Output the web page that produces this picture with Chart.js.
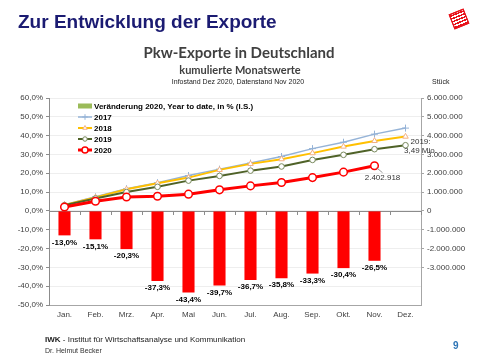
<!DOCTYPE html>
<html>
<head>
<meta charset="utf-8">
<script src="https://cdn.jsdelivr.net/npm/chart.js@4/dist/chart.umd.min.js"></script>
<style>
  body { margin: 0; background: #fff; }
  #wrap { position: relative; width: 480px; height: 360px; overflow: hidden; font-family: "Liberation Sans", Arial, sans-serif; }
  #wrap canvas { position: absolute; left: 0; top: 0; }
  .t { position: absolute; white-space: nowrap; }
  #logo { position: absolute; left: 451px; top: 11px; width: 14px; height: 14px; transform: rotate(-22deg);
    background: repeating-linear-gradient(0deg, #e8141c 0 1.5px, #fff 1.5px 3px), #e8141c;
    border: 1.5px solid #e8141c; }
</style>
</head>
<body>
<div id="wrap">
  <canvas id="chart" width="480" height="360"></canvas>
  <div class="t" style="left:18px;top:12px;font:bold 19px 'Liberation Sans',Arial;color:#1b1b72;line-height:20px;">Zur Entwicklung der Exporte</div>
  <div id="logo"></div>
  <div class="t" style="left:0;width:480px;text-align:center;top:44px;font:bold 15px Lato,sans-serif;color:#404040;line-height:16px;left:-1px;">Pkw-Exporte in Deutschland</div>
  <div class="t" style="left:0;width:480px;text-align:center;top:64px;font:bold 11px Lato,sans-serif;color:#404040;line-height:12px;">kumulierte Monatswerte</div>
  <div class="t" style="left:0;width:476px;text-align:center;top:77px;font:7px 'Liberation Sans',Arial;color:#222;line-height:9px;">Infostand Dez 2020, Datenstand Nov 2020</div>
  <div class="t" style="left:432px;top:77px;font:7px 'Liberation Sans',Arial;color:#222;line-height:9px;">Stück</div>
  <div class="t" style="left:45px;top:335px;font:8px 'Liberation Sans',Arial;color:#222;line-height:10px;"><b>IWK</b> - Institut für Wirtschaftsanalyse und Kommunikation</div>
  <div class="t" style="left:45px;top:346px;font:7px 'Liberation Sans',Arial;color:#333;line-height:9px;">Dr. Helmut Becker</div>
  <div class="t" style="left:453px;top:340px;font:bold 10px 'Liberation Sans',Arial;color:#2e75b6;line-height:11px;">9</div>
</div>
<script>
// Monate
const months = ['Jan.', 'Feb.', 'Mrz.', 'Apr.', 'Mai', 'Jun.', 'Jul.', 'Aug.', 'Sep.', 'Okt.', 'Nov.', 'Dez.'];

// Veränderung 2020 ggü. Vorjahr, kumuliert, in %
const change2020 = [-13.0, -15.1, -20.3, -37.3, -43.4, -39.7, -36.7, -35.8, -33.3, -30.4, -26.5, null];

// kumulierte Pkw-Exporte, Stück
const exports2017 = [330000, 750000, 1180000, 1500000, 1880000, 2220000, 2540000, 2890000, 3310000, 3650000, 4080000, 4400000];
const exports2018 = [320000, 720000, 1150000, 1470000, 1770000, 2180000, 2500000, 2750000, 3070000, 3420000, 3720000, 3950000];
const exports2019 = [300000, 660000, 1000000, 1280000, 1610000, 1860000, 2140000, 2360000, 2710000, 2980000, 3280000, 3490000];
const exports2020 = [210000, 510000, 740000, 780000, 890000, 1120000, 1330000, 1510000, 1770000, 2060000, 2402918, null];

const leftTicks = [-50, -40, -30, -20, -10, 0, 10, 20, 30, 40, 50, 60];
const rightTicks = [-3000000, -2000000, -1000000, 0, 1000000, 2000000, 3000000, 4000000, 5000000, 6000000];

const FONT = "'Liberation Sans', Arial, sans-serif";

function dots(v) {
    const s = String(Math.abs(Math.round(v))).replace(/\B(?=(\d{3})+(?!\d))/g, '.');
    return (v < 0 ? '-' : '') + s;
}
function pct(v) {
    return v.toFixed(1).replace('.', ',') + '%';
}

const extras = {
    id: 'extras',
    beforeDatasetsDraw(chart) {
        const ctx = chart.ctx;
        const x = chart.scales.x;
        const y = chart.scales.y;
        const area = chart.chartArea;
        const y0 = y.getPixelForValue(0);
        ctx.save();
        ctx.strokeStyle = '#8c8c8c';
        ctx.lineWidth = 1;
        ctx.beginPath();
        ctx.moveTo(area.left, Math.round(y0) + 0.5);
        ctx.lineTo(area.right, Math.round(y0) + 0.5);
        const w = (area.right - area.left) / months.length;
        for (let i = 0; i <= months.length; i++) {
            const px = Math.round(x.getPixelForTick(0) - w / 2 + i * w) + 0.5;
            ctx.moveTo(px, Math.round(y0));
            ctx.lineTo(px, Math.round(y0) + 4);
        }
        ctx.stroke();
        ctx.restore();
    },
    afterDatasetsDraw(chart) {
        const ctx = chart.ctx;
        const area = chart.chartArea;
        ctx.save();

        // Balkenbeschriftung
        const barMeta = chart.getDatasetMeta(0);
        ctx.font = 'bold 8px ' + FONT;
        ctx.fillStyle = '#000';
        ctx.textAlign = 'center';
        ctx.textBaseline = 'middle';
        barMeta.data.forEach((el, i) => {
            if (change2020[i] == null) return;
            ctx.fillText(pct(change2020[i]), el.x, el.y + 7);
        });

        // Hinweise an den Linien
        ctx.font = '8px ' + FONT;
        ctx.fillStyle = '#333';
        const p19 = chart.getDatasetMeta(3).data[11];
        ctx.fillText('2019:', p19.x + 15, p19.y - 3);
        ctx.fillText('3,49 Mio.', p19.x + 15, p19.y + 6);
        const p20 = chart.getDatasetMeta(4).data[10];
        ctx.strokeStyle = '#7f7f7f';
        ctx.lineWidth = 0.8;
        ctx.beginPath();
        ctx.moveTo(p20.x + 2, p20.y + 2);
        ctx.lineTo(p20.x + 8, p20.y + 7);
        ctx.stroke();
        ctx.fillText(dots(2402918), p20.x + 8, p20.y + 12);

        // Legende
        const lx = area.left + 29;
        let ly = area.top + 8;
        ctx.textAlign = 'left';
        ctx.font = 'bold 8px ' + FONT;
        chart.data.datasets.forEach((ds) => {
            if (ds.type === 'bar') {
                ctx.fillStyle = ds.legendColor;
                ctx.fillRect(lx, ly - 2.5, 14, 5);
            } else {
                ctx.strokeStyle = ds.borderColor;
                ctx.lineWidth = ds.borderWidth;
                ctx.beginPath();
                ctx.moveTo(lx, ly);
                ctx.lineTo(lx + 14, ly);
                ctx.stroke();
                ctx.fillStyle = ds.pointBackgroundColor;
                ctx.strokeStyle = ds.pointBorderColor;
                ctx.lineWidth = ds.pointBorderWidth;
                Chart.helpers.drawPoint(ctx, {
                    pointStyle: ds.pointStyle, rotation: 0,
                    radius: ds.pointRadius * 0.8, borderWidth: ds.pointBorderWidth
                }, lx + 7, ly);
            }
            ctx.fillStyle = '#000';
            ctx.fillText(ds.label, lx + 16, ly + 0.5);
            ly += 11;
        });
        ctx.restore();
    }
};

new Chart(document.getElementById('chart').getContext('2d'), {
    type: 'bar',
    data: {
        labels: months,
        datasets: [
            {
                type: 'bar',
                label: 'Veränderung 2020, Year to date, in % (l.S.)',
                data: change2020,
                yAxisID: 'y',
                backgroundColor: '#ff0000',
                legendColor: '#9bbb59',
                barPercentage: 0.39,
                categoryPercentage: 1,
                order: 10
            },
            {
                type: 'line', label: '2017', data: exports2017, yAxisID: 'y1',
                borderColor: '#95b3d7', borderWidth: 1.5,
                pointStyle: 'cross', pointRadius: 3.5, pointBorderWidth: 1,
                pointBorderColor: '#95b3d7', pointBackgroundColor: '#95b3d7', order: 4
            },
            {
                type: 'line', label: '2018', data: exports2018, yAxisID: 'y1',
                borderColor: '#ffc000', borderWidth: 2,
                pointStyle: 'triangle', pointRadius: 3.2, pointBorderWidth: 1,
                pointBorderColor: '#f4b183', pointBackgroundColor: '#fff', order: 3
            },
            {
                type: 'line', label: '2019', data: exports2019, yAxisID: 'y1',
                borderColor: '#4f6228', borderWidth: 2,
                pointStyle: 'circle', pointRadius: 2.8, pointBorderWidth: 1,
                pointBorderColor: '#76875a', pointBackgroundColor: '#fff', order: 2
            },
            {
                type: 'line', label: '2020', data: exports2020, yAxisID: 'y1',
                borderColor: '#ff0000', borderWidth: 3,
                pointStyle: 'circle', pointRadius: 3.8, pointBorderWidth: 1.5,
                pointBorderColor: '#ff0000', pointBackgroundColor: '#fff', order: 1
            }
        ]
    },
    options: {
        responsive: false,
        animation: false,
        devicePixelRatio: 1,
        layout: { padding: { top: 98, left: 0, right: 0, bottom: 0 } },
        plugins: {
            legend: { display: false },
            title: { display: false },
            tooltip: { enabled: false }
        },
        scales: {
            x: {
                grid: { display: false, drawTicks: false, tickLength: 0 },
                border: { display: true, color: '#a6a6a6' },
                ticks: { font: { family: FONT, size: 8 }, color: '#404040', padding: 5, maxRotation: 0 },
                afterFit: (s) => { s.height = 55; }
            },
            y: {
                position: 'left',
                min: -50, max: 60,
                afterBuildTicks: (s) => { s.ticks = leftTicks.map(v => ({ value: v })); },
                ticks: { font: { family: FONT, size: 8 }, color: '#404040', padding: 3, callback: (v) => pct(v) },
                grid: { color: '#eeeeee', tickColor: '#8c8c8c', tickLength: 3 },
                border: { color: '#8c8c8c' },
                afterFit: (s) => { s.width = 49; }
            },
            y1: {
                position: 'right',
                min: -5000000, max: 6000000,
                afterBuildTicks: (s) => { s.ticks = rightTicks.map(v => ({ value: v })); },
                ticks: { font: { family: FONT, size: 8 }, color: '#404040', padding: 3, callback: (v) => dots(v) },
                grid: { drawOnChartArea: false, tickColor: '#a6a6a6', tickLength: 3 },
                border: { color: '#a6a6a6' },
                afterFit: (s) => { s.width = 59; }
            }
        }
    },
    plugins: [extras]
});
</script>
</body>
</html>
